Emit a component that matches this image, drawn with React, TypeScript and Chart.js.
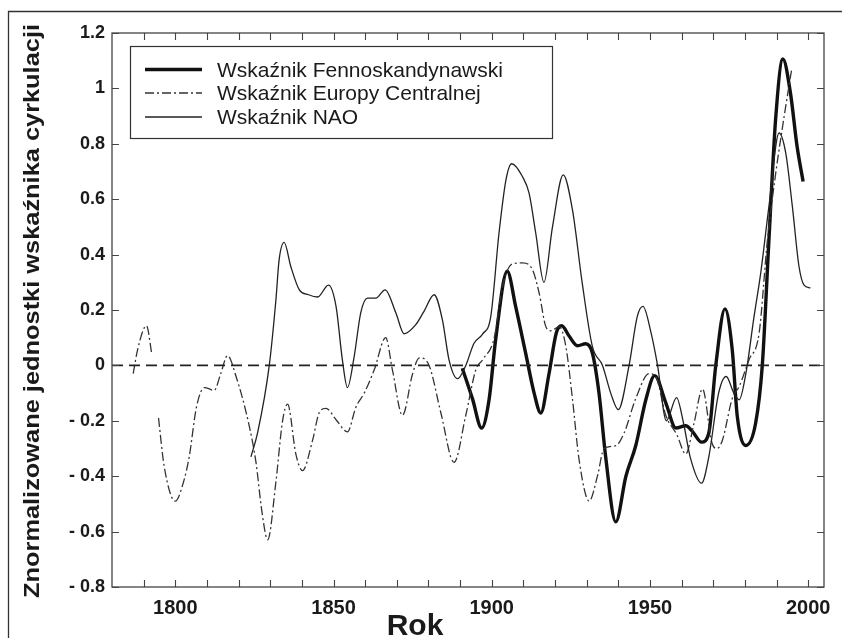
import { useEffect, useRef } from "react";
import { Chart, registerables } from "chart.js";

Chart.register(...registerables);

// ---------------- DATA ----------------
const fennoYears = [1890.7, 1893.9, 1896.8, 1899.2, 1901.2, 1904.9, 1907.6, 1910.7, 1913.4, 1915.5, 1918.1, 1920.4, 1922.1, 1924.5, 1927.1, 1929.7, 1931.8, 1933.9, 1936, 1939.2, 1942.4, 1945.5, 1948.7, 1951.5, 1955, 1958.2, 1961.3, 1963.4, 1966.3, 1968.6, 1970.8, 1973.7, 1976, 1977.6, 1980.3, 1983.4, 1985.5, 1987.6, 1989.7, 1992, 1994.4, 1996.5, 1998.4];
const fennoValues = [-0.01, -0.12, -0.226, -0.12, 0.09, 0.34, 0.21, 0.045, -0.1, -0.172, -0.03, 0.117, 0.143, 0.105, 0.071, 0.078, 0.045, -0.1, -0.33, -0.565, -0.4, -0.29, -0.124, -0.037, -0.135, -0.226, -0.218, -0.238, -0.277, -0.244, 0.0, 0.204, 0.057, -0.184, -0.289, -0.208, 0.0, 0.454, 0.887, 1.106, 0.983, 0.79, 0.664];

const ceEarlyYears = [1786.7, 1788.1, 1790.9, 1792.6];
const ceEarlyValues = [-0.03, 0.057, 0.143, 0.04];

const ceYears = [1794.7, 1796.5, 1800, 1802.5, 1804.4, 1806.7, 1809.2, 1812.3, 1814.4, 1816.5, 1819.2, 1823.4, 1825.5, 1827.4, 1829.2, 1831.8, 1833.9, 1835.5, 1838.1, 1840.2, 1843.4, 1845.5, 1847.6, 1850.8, 1854.4, 1857.1, 1859.7, 1862.9, 1866.5, 1868.6, 1871.8, 1875, 1877.1, 1880.2, 1883.9, 1888.1, 1891.8, 1895, 1897.1, 1900.8, 1903.4, 1906.6, 1909.7, 1912.9, 1915, 1917.1, 1918.7, 1921.3, 1923.4, 1925.5, 1927.6, 1930.8, 1933.4, 1935.5, 1939.2, 1941.8, 1945.5, 1949.7, 1951.8, 1955, 1958.5, 1961.3, 1963.9, 1966.6, 1969.6, 1971.2, 1972.9, 1976, 1978.2, 1981.3, 1984.5, 1987.1, 1989.7, 1992.9, 1994.8];
const ceValues = [-0.19, -0.365, -0.49, -0.425, -0.33, -0.15, -0.08, -0.09, -0.028, 0.035, -0.04, -0.22, -0.35, -0.53, -0.63, -0.42, -0.2, -0.14, -0.32, -0.38, -0.27, -0.17, -0.155, -0.196, -0.24, -0.15, -0.1, -0.015, 0.1, -0.015, -0.18, -0.03, 0.027, 0.0, -0.17, -0.35, -0.18, -0.015, 0.02, 0.1, 0.285, 0.367, 0.37, 0.345, 0.26, 0.14, 0.125, 0.14, 0.07, -0.12, -0.34, -0.49, -0.4, -0.3, -0.29, -0.245, -0.12, -0.03, -0.04, -0.18, -0.25, -0.32, -0.21, -0.085, -0.28, -0.3, -0.27, -0.12, -0.076, 0.02, 0.117, 0.45, 0.69, 0.935, 1.07];

const naoYears = [1823.9, 1826, 1829.7, 1831.8, 1832.8, 1834.4, 1836.5, 1839.2, 1842.1, 1845, 1848.4, 1850.8, 1852.8, 1854.4, 1856.5, 1858.6, 1860.7, 1863.4, 1866.3, 1869.7, 1872.3, 1876, 1878.6, 1881.8, 1884.4, 1886.5, 1889.2, 1891.8, 1894.4, 1897.1, 1899.7, 1902.3, 1904.5, 1906.3, 1909.7, 1911.8, 1913.9, 1916.5, 1919.2, 1922.6, 1925.5, 1928.6, 1931.8, 1935, 1937.6, 1940, 1943.4, 1946, 1947.8, 1950.3, 1952.4, 1955.2, 1958.4, 1960.6, 1962.7, 1966.3, 1968.6, 1971.7, 1974.1, 1976.5, 1978.2, 1980.3, 1982.9, 1985, 1987.6, 1990.8, 1992.9, 1995, 1997.1, 1998.7, 2000.7];
const naoValues = [-0.33, -0.244, 0.0, 0.237, 0.38, 0.444, 0.357, 0.273, 0.255, 0.247, 0.29, 0.213, 0.02, -0.08, 0.03, 0.19, 0.243, 0.243, 0.273, 0.19, 0.114, 0.147, 0.195, 0.255, 0.165, 0.02, -0.048, 0.0, 0.08, 0.113, 0.177, 0.478, 0.67, 0.728, 0.682, 0.622, 0.478, 0.3, 0.5, 0.688, 0.562, 0.297, 0.069, 0.0, -0.1, -0.16, 0.0, 0.177, 0.213, 0.12, 0.0, -0.2, -0.116, -0.208, -0.33, -0.425, -0.33, -0.1, -0.04, -0.1, -0.124, -0.03, 0.177, 0.333, 0.574, 0.839, 0.767, 0.574, 0.357, 0.29, 0.28];

const zeroYears = [1780, 2005];
const zeroValues = [0, 0];

const xMin = 1780;
const xMax = 2005;
const yMin = -0.8;
const yMax = 1.2;
const xTickYears = [1790, 1800, 1810, 1820, 1830, 1840, 1850, 1860, 1870, 1880, 1890, 1900, 1910, 1920, 1930, 1940, 1950, 1960, 1970, 1980, 1990, 2000];
const xLabelYears = [1800, 1850, 1900, 1950, 2000];
const yTickValues = [-0.8, -0.6, -0.4, -0.2, 0, 0.2, 0.4, 0.6, 0.8, 1, 1.2];

const seriesLabels = ["Wskaźnik Fennoskandynawski", "Wskaźnik Europy Centralnej", "Wskaźnik NAO"];
const xTitle = "Rok";
const yTitle = "Znormalizowane jednostki wskaźnika cyrkulacji";

// ---------------- STYLES ----------------
const FONT = "'Liberation Sans', Arial, sans-serif";
const INK = "#1a1a1a";
const fennoStyle = { color: "#111111", width: 3.4, dash: [] as number[] };
const ceStyle = { color: "#333333", width: 1.3, dash: [9, 3, 2, 3] };
const naoStyle = { color: "#222222", width: 1.3, dash: [] as number[] };

function pts(xs: number[], ys: number[]) {
  return xs.map((x, i) => ({ x, y: ys[i] }));
}

function fmtY(v: number) {
  const r = Math.round(v * 10) / 10;
  if (r === 0) return "0";
  if (r < 0) return "- " + Math.abs(r).toFixed(1);
  if (r === 1) return "1";
  return r.toFixed(1);
}

const decorPlugin = {
  id: "decor",
  afterDraw(chart: any) {
    const ctx = chart.ctx as CanvasRenderingContext2D;
    const a = chart.chartArea;
    const xs = chart.scales.x;
    const ys = chart.scales.y;
    ctx.save();

    // outer frame (top & left visible)
    ctx.strokeStyle = "#333";
    ctx.lineWidth = 1.3;
    ctx.beginPath();
    ctx.moveTo(8.5, 640);
    ctx.lineTo(8.5, 11.5);
    ctx.lineTo(845, 11.5);
    ctx.stroke();

    // plot frame
    ctx.strokeStyle = "#444";
    ctx.lineWidth = 1.3;
    ctx.strokeRect(a.left, a.top, a.right - a.left, a.bottom - a.top);

    // inward ticks
    const tl = 7;
    ctx.beginPath();
    xTickYears.forEach((yr) => {
      const px = Math.round(xs.getPixelForValue(yr)) + 0.5;
      ctx.moveTo(px, a.bottom);
      ctx.lineTo(px, a.bottom - tl);
      ctx.moveTo(px, a.top);
      ctx.lineTo(px, a.top + tl);
    });
    yTickValues.forEach((v) => {
      const py = Math.round(ys.getPixelForValue(v)) + 0.5;
      ctx.moveTo(a.left, py);
      ctx.lineTo(a.left + tl, py);
      ctx.moveTo(a.right, py);
      ctx.lineTo(a.right - tl, py);
    });
    ctx.lineWidth = 1.1;
    ctx.stroke();

    // legend
    const lx = 130.5, ly = 46.5, lw = 422, lh = 92;
    ctx.fillStyle = "#ffffff";
    ctx.fillRect(lx, ly, lw, lh);
    ctx.strokeStyle = "#333";
    ctx.lineWidth = 1.2;
    ctx.strokeRect(lx, ly, lw, lh);
    const rows = [69.5, 93, 117];
    const styles = [fennoStyle, ceStyle, naoStyle];
    ctx.font = `21px ${FONT}`;
    ctx.textBaseline = "alphabetic";
    ctx.textAlign = "left";
    rows.forEach((ry, i) => {
      const st = styles[i];
      ctx.beginPath();
      ctx.setLineDash(st.dash);
      ctx.strokeStyle = st.color;
      ctx.lineWidth = st.width;
      ctx.moveTo(145, ry);
      ctx.lineTo(202, ry);
      ctx.stroke();
      ctx.setLineDash([]);
      ctx.fillStyle = INK;
      ctx.fillText(seriesLabels[i], 217, ry + 7);
    });

    // y title
    ctx.save();
    ctx.translate(33, 311);
    ctx.rotate(-Math.PI / 2);
    ctx.font = `bold 22px ${FONT}`;
    const w = ctx.measureText(yTitle).width;
    ctx.scale(574 / w, 1);
    ctx.textAlign = "center";
    ctx.textBaseline = "middle";
    ctx.fillStyle = INK;
    ctx.fillText(yTitle, 0, 0);
    ctx.restore();

    // x title
    ctx.font = `bold 30px ${FONT}`;
    ctx.textAlign = "center";
    ctx.textBaseline = "alphabetic";
    ctx.fillStyle = INK;
    ctx.fillText(xTitle, 415, 635);

    ctx.restore();
  },
};

export default function App() {
  const ref = useRef<HTMLCanvasElement | null>(null);

  useEffect(() => {
    if (!ref.current) return;
    const line = (data: any, st: any) => ({
      data,
      borderColor: st.color,
      borderWidth: st.width,
      borderDash: st.dash,
      pointRadius: 0,
      pointHoverRadius: 0,
      fill: false,
      cubicInterpolationMode: "monotone" as const,
      tension: 0.4,
    });
    const chart = new Chart(ref.current, {
      type: "line",
      data: {
        datasets: [
          { ...line(pts(zeroYears, zeroValues), { color: "#222", width: 1.7, dash: [11, 6] }), label: "zero", cubicInterpolationMode: "default", tension: 0 },
          { ...line(pts(naoYears, naoValues), naoStyle), label: seriesLabels[2] },
          { ...line(pts(ceEarlyYears, ceEarlyValues), ceStyle), label: seriesLabels[1] + " a" },
          { ...line(pts(ceYears, ceValues), ceStyle), label: seriesLabels[1] },
          { ...line(pts(fennoYears, fennoValues), fennoStyle), label: seriesLabels[0] },
        ] as any,
      },
      options: {
        animation: false,
        responsive: false,
        devicePixelRatio: 1,
        events: [],
        layout: { padding: { left: 0, top: 33, right: 18, bottom: 0 } },
        plugins: { legend: { display: false }, tooltip: { enabled: false }, title: { display: false } },
        scales: {
          x: {
            type: "linear",
            min: xMin,
            max: xMax,
            grid: { display: false, drawTicks: false },
            border: { display: false },
            afterBuildTicks: (s: any) => {
              s.ticks = xTickYears.map((v) => ({ value: v }));
            },
            afterFit: (s: any) => {
              s.height = 51;
            },
            ticks: {
              autoSkip: false,
              maxRotation: 0,
              padding: 9,
              color: INK,
              font: { family: FONT, size: 20, weight: "bold" },
              callback: (v: any) => (xLabelYears.includes(Number(v)) ? String(v) : ""),
            },
          },
          y: {
            type: "linear",
            min: yMin,
            max: yMax,
            grid: { display: false, drawTicks: false },
            border: { display: false },
            afterBuildTicks: (s: any) => {
              s.ticks = yTickValues.map((v) => ({ value: v }));
            },
            afterFit: (s: any) => {
              s.width = 112;
            },
            ticks: {
              autoSkip: false,
              padding: 7,
              color: INK,
              font: { family: FONT, size: 18, weight: "bold" },
              callback: (v: any) => fmtY(Number(v)),
            },
          },
        },
      } as any,
      plugins: [decorPlugin],
    });
    return () => chart.destroy();
  }, []);

  return (
    <div style={{ position: "fixed", left: 0, top: 0, width: 842, height: 638, background: "#fff" }}>
      <canvas ref={ref} width={842} height={638} style={{ width: 842, height: 638, display: "block" }} />
    </div>
  );
}
